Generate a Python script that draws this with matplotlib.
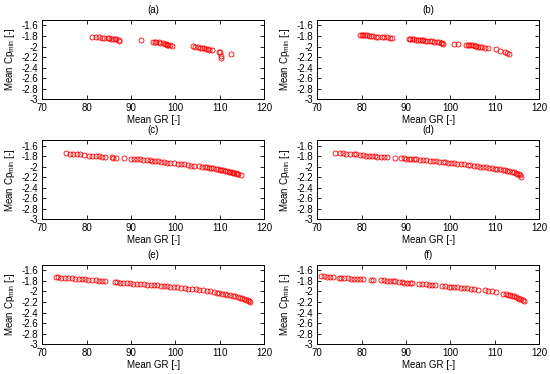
import matplotlib
matplotlib.use('Agg')
import matplotlib.pyplot as plt
from matplotlib.ticker import FormatStrFormatter

plt.rcParams['font.family'] = ['Liberation Sans', 'DejaVu Sans']
plt.rcParams['axes.unicode_minus'] = False
plt.rcParams['mathtext.fontset'] = 'custom'
plt.rcParams['mathtext.rm'] = 'Liberation Sans'

# panel labels
labels = ['(a)', '(b)', '(c)', '(d)', '(e)', '(f)']

# (a)
gr_a = [81.3, 82.1, 82.8, 83.4, 84.0, 84.8, 85.1, 85.5, 85.9, 86.3, 86.6, 87.2, 87.3,
        92.2,
        95.0, 95.4, 95.7, 96.3, 96.6, 97.2, 97.6, 98.0, 98.2, 98.4, 98.9, 99.3,
        104.0, 104.5, 105.0, 105.5, 106.0, 106.4, 107.0, 107.4, 107.7, 108.2,
        109.8, 110.1, 110.3, 110.4, 112.5]
cp_a = [-1.81, -1.82, -1.82, -1.83, -1.83, -1.84, -1.84, -1.85, -1.85, -1.86, -1.86, -1.87, -1.90,
        -1.87,
        -1.91, -1.91, -1.92, -1.92, -1.93, -1.93, -1.95, -1.96, -1.97, -1.97, -1.98, -1.99,
        -1.99, -2.00, -2.01, -2.02, -2.02, -2.03, -2.04, -2.05, -2.06, -2.06,
        -2.10, -2.11, -2.18, -2.21, -2.15]

# (b)
gr_b = [79.6, 80.0, 80.4, 80.8, 81.2, 81.6, 82.0, 82.6, 83.3, 83.6,
        84.6, 85.1, 85.6, 86.3, 86.8,
        90.6, 91.0, 91.4, 91.9, 92.3, 92.7, 93.1, 93.5, 93.9, 94.3, 94.8, 95.3,
        95.8, 96.4, 96.9, 97.5, 97.9, 98.2, 98.4,
        100.9, 101.8,
        103.5, 103.9, 104.3, 104.7, 105.1, 105.5, 105.9, 106.3, 106.6, 107.2, 107.8, 108.5,
        110.2, 111.2, 112.3, 112.8, 113.3]
cp_b = [-1.78, -1.78, -1.79, -1.79, -1.79, -1.80, -1.80, -1.80, -1.81, -1.81,
        -1.82, -1.82, -1.82, -1.83, -1.83,
        -1.85, -1.85, -1.86, -1.86, -1.87, -1.87, -1.87, -1.88, -1.88, -1.89, -1.89, -1.90,
        -1.90, -1.91, -1.91, -1.92, -1.93, -1.94, -1.95,
        -1.95, -1.96,
        -1.97, -1.97, -1.98, -1.98, -1.98, -1.99, -1.99, -2.00, -2.01, -2.01, -2.02, -2.03,
        -2.05, -2.09, -2.11, -2.12, -2.14]

# (c)
gr_c = [75.3, 76.2, 77.0, 77.8, 78.6, 79.5, 80.6, 81.3, 82.0, 82.7, 83.4, 84.2, 85.6, 86.0, 86.7,
        88.4, 90.1, 90.7, 91.3, 92.0, 92.8, 93.6, 94.3, 94.8, 95.5, 96.2, 96.7, 97.4, 98.2,
        98.9, 99.7, 100.6, 101.3, 102.0, 102.8, 103.5, 104.2, 105.3, 106.0, 106.6, 107.1,
        107.6, 108.1, 108.6, 109.1, 109.6, 110.0, 110.4, 110.8, 111.2, 111.6, 112.0, 112.4,
        112.7, 113.0, 113.3, 113.6, 113.9, 114.2, 114.7]
cp_c = [-1.75, -1.76, -1.76, -1.77, -1.77, -1.78, -1.79, -1.79, -1.80, -1.80, -1.81, -1.81, -1.82, -1.83, -1.83,
        -1.84, -1.85, -1.85, -1.86, -1.86, -1.87, -1.88, -1.88, -1.89, -1.90, -1.90, -1.91, -1.92, -1.93,
        -1.93, -1.94, -1.95, -1.96, -1.96, -1.97, -1.98, -1.98, -1.99, -2.00, -2.01, -2.01,
        -2.02, -2.03, -2.03, -2.04, -2.05, -2.06, -2.06, -2.07, -2.08, -2.09, -2.10, -2.10,
        -2.11, -2.12, -2.13, -2.13, -2.14, -2.15, -2.16]

# (d)
gr_d = [74.0, 75.2, 75.8, 76.5, 77.3, 78.2, 78.8, 79.6, 80.4, 81.0, 81.7, 82.3, 82.9, 83.5,
        84.4, 85.0, 85.7, 87.6, 88.9, 89.5, 90.1, 90.6, 91.1, 91.7, 92.3, 93.2, 93.9, 94.6,
        95.3, 96.1, 96.7, 97.5, 98.3, 98.9, 99.5, 100.1, 100.8, 101.6, 102.4, 103.1, 103.9,
        104.5, 105.3, 106.0, 106.8, 107.4, 108.1, 108.8, 109.4, 110.0, 110.6, 111.2, 111.8,
        112.3, 112.8, 113.3, 113.8, 114.3, 114.7, 115.1, 115.4, 115.7, 115.9]
cp_d = [-1.74, -1.75, -1.75, -1.76, -1.76, -1.77, -1.77, -1.78, -1.78, -1.79, -1.79, -1.80, -1.80, -1.81,
        -1.81, -1.82, -1.82, -1.83, -1.84, -1.84, -1.85, -1.85, -1.85, -1.86, -1.86, -1.87, -1.87, -1.88,
        -1.89, -1.89, -1.90, -1.91, -1.92, -1.92, -1.93, -1.94, -1.94, -1.95, -1.96, -1.96, -1.97,
        -1.97, -1.98, -1.99, -2.00, -2.00, -2.01, -2.02, -2.03, -2.04, -2.04, -2.05, -2.06,
        -2.07, -2.08, -2.09, -2.10, -2.11, -2.12, -2.14, -2.15, -2.17, -2.19]

# (e)
gr_e = [73.0, 73.6, 74.3, 75.0, 75.7, 76.6, 77.4, 78.2, 79.0, 79.7, 80.4, 81.2, 82.1, 82.7,
        83.4, 84.2, 86.3, 86.9, 87.6, 88.3, 89.0, 89.7, 90.5, 91.3, 92.1, 92.9, 93.6, 94.4,
        95.2, 95.9, 96.7, 97.5, 98.2, 98.9, 99.6, 100.4, 101.2, 102.1, 102.9, 103.7, 104.6,
        105.4, 106.2, 107.1, 107.9, 108.7, 109.3, 109.9, 110.5, 111.1, 111.7, 112.3, 112.9,
        113.5, 114.1, 114.6, 115.1, 115.5, 115.9, 116.3, 116.6, 116.9]
cp_e = [-1.73, -1.73, -1.74, -1.74, -1.75, -1.75, -1.76, -1.76, -1.77, -1.77, -1.78, -1.79, -1.79, -1.80,
        -1.80, -1.81, -1.82, -1.82, -1.83, -1.83, -1.84, -1.84, -1.85, -1.85, -1.86, -1.86, -1.87, -1.87,
        -1.88, -1.88, -1.89, -1.90, -1.90, -1.91, -1.91, -1.92, -1.93, -1.94, -1.95, -1.95, -1.96,
        -1.97, -1.98, -1.99, -2.00, -2.01, -2.02, -2.03, -2.04, -2.05, -2.06, -2.07, -2.08,
        -2.09, -2.11, -2.12, -2.13, -2.15, -2.16, -2.17, -2.19, -2.20]

# (f)
gr_f = [70.9, 71.5, 72.2, 72.9, 73.5, 74.8, 75.4, 76.1, 77.0, 77.7, 78.3, 79.0, 79.7, 80.4,
        82.0, 82.6, 84.4, 85.0, 85.6, 86.3, 87.0, 87.6, 88.4, 89.0, 89.6, 90.2, 90.9, 91.4,
        93.0, 93.7, 94.4, 95.2, 95.9, 96.6, 98.2, 98.9, 99.6, 100.2, 100.8, 101.5, 102.3,
        103.0, 103.8, 104.6, 105.4, 106.3, 107.9, 108.6, 109.3, 110.3, 111.9, 112.5, 113.0,
        113.5, 114.0, 114.4, 114.8, 115.2, 115.6, 116.0, 116.3, 116.6]
cp_f = [-1.71, -1.71, -1.72, -1.72, -1.73, -1.74, -1.74, -1.75, -1.75, -1.76, -1.76, -1.76, -1.77, -1.77,
        -1.78, -1.78, -1.79, -1.79, -1.80, -1.80, -1.81, -1.81, -1.82, -1.82, -1.83, -1.83, -1.84, -1.84,
        -1.85, -1.86, -1.86, -1.87, -1.87, -1.88, -1.89, -1.90, -1.91, -1.91, -1.92, -1.92, -1.93,
        -1.94, -1.94, -1.95, -1.96, -1.97, -1.98, -1.99, -2.00, -2.01, -2.04, -2.05, -2.06,
        -2.07, -2.08, -2.09, -2.11, -2.12, -2.14, -2.15, -2.17, -2.19]

xs = [gr_a, gr_b, gr_c, gr_d, gr_e, gr_f]
ys = [cp_a, cp_b, cp_c, cp_d, cp_e, cp_f]

xticks = [70, 80, 90, 100, 110, 120]
yticks = [-3, -2.8, -2.6, -2.4, -2.2, -2, -1.8, -1.6]

fig = plt.figure(figsize=(5.5, 3.74), dpi=100)

# axes boxes in figure fractions (left, bottom, width, height)
lefts = [0.077, 0.577]
bottoms = [0.735, 0.414, 0.080]
w, h = 0.403, 0.211
fs = 7

for i in range(6):
    r, c = i // 2, i % 2
    ax = fig.add_axes([lefts[c], bottoms[r], w, h])
    ax.plot(xs[i], ys[i], 'o', mfc='none', mec='#ff0000', ms=3.6, mew=0.6)
    ax.set_xlim(70, 120)
    ax.set_ylim(-3, -1.5)
    ax.set_xticks(xticks)
    ax.set_yticks(yticks)
    ax.yaxis.set_major_formatter(FormatStrFormatter('%g'))
    ax.tick_params(direction='in', top=True, right=True, length=3, width=0.6,
                   labelsize=fs, pad=3)
    for s in ax.spines.values():
        s.set_linewidth(0.7)
    ax.set_xlabel('Mean GR [-]', fontsize=fs, labelpad=1.5)
    ax.set_ylabel('Mean Cp$_{\\mathregular{min}}$ [-]', fontsize=fs, labelpad=3)
    ax.set_title(labels[i], fontsize=fs, pad=5)

fig.savefig('out.png', dpi=100)
